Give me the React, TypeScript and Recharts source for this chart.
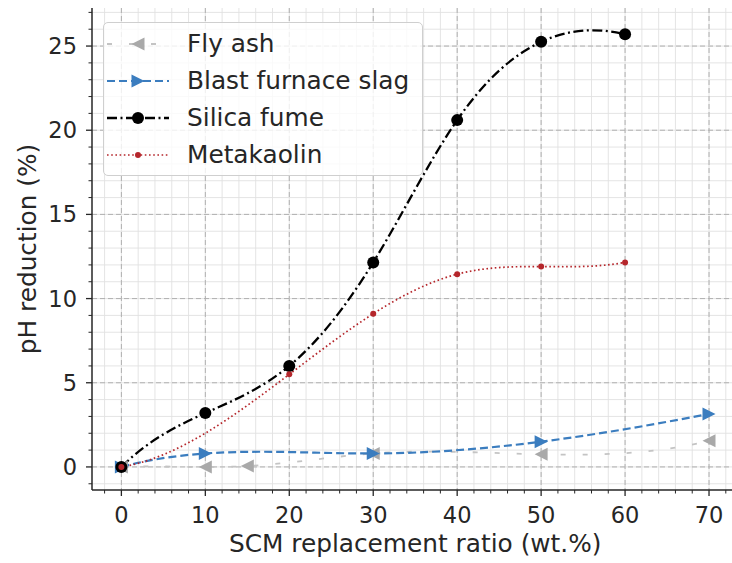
import React from 'react';
import { LineChart, Line, XAxis, YAxis, CartesianGrid } from 'recharts';

// values
const FLY_X = [0, 10, 15, 30, 50, 70];
const FLY_Y = [0, 0, 0.05, 0.8, 0.75, 1.55];

const SLAG_X = [0, 10, 30, 50, 70];
const SLAG_Y = [0, 0.8, 0.8, 1.5, 3.15];

const SILICA_X = [0, 10, 20, 30, 40, 50, 60];
const SILICA_Y = [0, 3.2, 6.0, 12.15, 20.6, 25.25, 25.7];

const META_X = [0, 20, 30, 40, 50, 60];
const META_Y = [0, 5.5, 9.1, 11.45, 11.9, 12.15];

const X_MAJOR = [0, 10, 20, 30, 40, 50, 60, 70];
const Y_MAJOR = [0, 5, 10, 15, 20, 25];

const X_DOMAIN: [number, number] = [-3.5, 73.5];
const Y_DOMAIN: [number, number] = [-1.37, 27.26];

const range = (a: number, b: number, step: number) => {
  const out: number[] = [];
  for (let v = a; v <= b + 1e-9; v += step) out.push(Math.round(v * 100) / 100);
  return out;
};
const X_MINOR = range(-2, 72, 2);
const Y_MINOR = range(-1, 27, 1);

const FONT = '"DejaVu Sans", Verdana, sans-serif';
const INK = '#262626';

const toRows = (xs: number[], ys: number[]) => xs.map((x, i) => ({ x, y: ys[i] }));

// not-a-knot cubic spline, like scipy's make_interp_spline
function secondDerivs(xs: number[], ys: number[]) {
  const n = xs.length;
  const h: number[] = [];
  const s: number[] = [];
  for (let i = 0; i < n - 1; i++) {
    h.push(xs[i + 1] - xs[i]);
    s.push((ys[i + 1] - ys[i]) / h[i]);
  }
  const A: number[][] = Array.from({ length: n }, () => new Array(n).fill(0));
  const b: number[] = new Array(n).fill(0);
  if (n < 4) {
    A[0][0] = 1;
    A[n - 1][n - 1] = 1;
  } else {
    A[0][0] = h[1];
    A[0][1] = -(h[0] + h[1]);
    A[0][2] = h[0];
    A[n - 1][n - 3] = h[n - 2];
    A[n - 1][n - 2] = -(h[n - 3] + h[n - 2]);
    A[n - 1][n - 1] = h[n - 3];
  }
  for (let i = 1; i < n - 1; i++) {
    A[i][i - 1] = h[i - 1];
    A[i][i] = 2 * (h[i - 1] + h[i]);
    A[i][i + 1] = h[i];
    b[i] = 6 * (s[i] - s[i - 1]);
  }
  // gaussian elimination
  for (let c = 0; c < n; c++) {
    let p = c;
    for (let r = c + 1; r < n; r++) if (Math.abs(A[r][c]) > Math.abs(A[p][c])) p = r;
    [A[c], A[p]] = [A[p], A[c]];
    [b[c], b[p]] = [b[p], b[c]];
    for (let r = c + 1; r < n; r++) {
      const f = A[r][c] / A[c][c];
      for (let k = c; k < n; k++) A[r][k] -= f * A[c][k];
      b[r] -= f * b[c];
    }
  }
  const M = new Array(n).fill(0);
  for (let r = n - 1; r >= 0; r--) {
    let acc = b[r];
    for (let k = r + 1; k < n; k++) acc -= A[r][k] * M[k];
    M[r] = acc / A[r][r];
  }
  return M;
}

function splineCurve(context: any) {
  let xs: number[] = [];
  let ys: number[] = [];
  return {
    areaStart() {},
    areaEnd() {},
    lineStart() {
      xs = [];
      ys = [];
    },
    point(x: number, y: number) {
      xs.push(+x);
      ys.push(+y);
    },
    lineEnd() {
      const n = xs.length;
      if (!n) return;
      context.moveTo(xs[0], ys[0]);
      if (n === 2) context.lineTo(xs[1], ys[1]);
      if (n < 3) return;
      const M = secondDerivs(xs, ys);
      for (let i = 0; i < n - 1; i++) {
        const h = xs[i + 1] - xs[i];
        const sl = (ys[i + 1] - ys[i]) / h;
        const d0 = sl - (h * (2 * M[i] + M[i + 1])) / 6;
        const d1 = sl + (h * (M[i] + 2 * M[i + 1])) / 6;
        context.bezierCurveTo(
          xs[i] + h / 3,
          ys[i] + (d0 * h) / 3,
          xs[i + 1] - h / 3,
          ys[i + 1] - (d1 * h) / 3,
          xs[i + 1],
          ys[i + 1]
        );
      }
    },
  };
}

type Marker = 'left' | 'right' | 'bigdot' | 'dot';

function marker(kind: Marker, cx: number, cy: number, color: string, key?: string) {
  if (kind === 'left') {
    const r = 6.5;
    return <path key={key} d={`M${cx - r},${cy} L${cx + r},${cy - r} L${cx + r},${cy + r} Z`} fill={color} />;
  }
  if (kind === 'right') {
    const r = 6.5;
    return <path key={key} d={`M${cx + r},${cy} L${cx - r},${cy - r} L${cx - r},${cy + r} Z`} fill={color} />;
  }
  if (kind === 'bigdot') return <circle key={key} cx={cx} cy={cy} r={6} fill={color} />;
  return <circle key={key} cx={cx} cy={cy} r={3} fill={color} />;
}

const SERIES = [
  { name: 'Fly ash', rows: toRows(FLY_X, FLY_Y), stroke: '#c4c4c4', mark: '#a9a9a9', dash: '5 17', width: 1.8, kind: 'left' as Marker },
  { name: 'Blast furnace slag', rows: toRows(SLAG_X, SLAG_Y), stroke: '#3b7dbf', mark: '#3b7dbf', dash: '8 4', width: 2.2, kind: 'right' as Marker },
  { name: 'Silica fume', rows: toRows(SILICA_X, SILICA_Y), stroke: '#000000', mark: '#000000', dash: '10 3.5 2 3.5', width: 2.3, kind: 'bigdot' as Marker },
  { name: 'Metakaolin', rows: toRows(META_X, META_Y), stroke: '#b5262b', mark: '#b5262b', dash: '1.6 2.6', width: 1.7, kind: 'dot' as Marker },
];

const XTick = (props: any) => {
  const { x, y, payload } = props;
  const major = X_MAJOR.includes(payload.value);
  return (
    <g>
      <line x1={x} x2={x} y1={y} y2={y + (major ? 6 : 3.5)} stroke={INK} strokeWidth={major ? 1.3 : 1} />
      {major && (
        <text x={x} y={y + 33} textAnchor="middle" fontSize={22.5} fill={INK}>
          {payload.value}
        </text>
      )}
    </g>
  );
};

const YTick = (props: any) => {
  const { x, y, payload } = props;
  const major = Y_MAJOR.includes(payload.value);
  return (
    <g>
      <line x1={x} x2={x - (major ? 6 : 3.5)} y1={y} y2={y} stroke={INK} strokeWidth={major ? 1.3 : 1} />
      {major && (
        <text x={x - 15} y={y + 8} textAnchor="end" fontSize={22.5} fill={INK}>
          {payload.value}
        </text>
      )}
    </g>
  );
};

function LegendBox() {
  return (
    <div
      style={{
        position: 'absolute',
        left: 103,
        top: 22,
        width: 320,
        height: 154,
        border: '1px solid #cfcfcf',
        borderRadius: 5,
        background: 'rgba(255,255,255,0.8)',
        boxSizing: 'border-box',
        paddingTop: 2,
      }}
    >
      {SERIES.map((s) => (
        <div key={s.name} style={{ display: 'flex', alignItems: 'center', height: 37 }}>
          <svg width={62} height={20} style={{ marginLeft: 3, marginRight: 18 }}>
            <line x1={0} x2={62} y1={10} y2={10} stroke={s.stroke} strokeWidth={s.width} strokeDasharray={s.dash} />
            {marker(s.kind, 31, 10, s.mark)}
          </svg>
          <span style={{ fontSize: 24.8, color: INK, lineHeight: '37px' }}>{s.name}</span>
        </div>
      ))}
    </div>
  );
}

export default function App() {
  return (
    <div
      style={{
        position: 'absolute',
        left: 0,
        top: 0,
        width: 732,
        height: 563,
        overflow: 'hidden',
        background: '#fff',
        fontFamily: FONT,
      }}
    >
      <LineChart width={760} height={563} margin={{ top: 8, right: 21.6, bottom: 0, left: 0 }}>
        <CartesianGrid stroke="#e1e1e1" strokeWidth={0.9} horizontalValues={Y_MINOR} verticalValues={X_MINOR} />
        <CartesianGrid stroke="#b0b0b0" strokeWidth={1} strokeDasharray="5 3" horizontalValues={Y_MAJOR} verticalValues={X_MAJOR} />
        <XAxis
          type="number"
          dataKey="x"
          domain={X_DOMAIN}
          allowDataOverflow
          ticks={X_MINOR}
          interval={0}
          height={73}
          tickSize={0}
          tickMargin={0}
          tickLine={false}
          tick={<XTick />}
          axisLine={{ stroke: INK, strokeWidth: 1.5 }}
          label={{ value: 'SCM replacement ratio (wt.%)', position: 'insideBottom', offset: 11, fontSize: 24.8, fill: INK }}
        />
        <XAxis
          xAxisId="top"
          orientation="top"
          type="number"
          domain={X_DOMAIN}
          allowDataOverflow
          height={0}
          tick={false}
          tickLine={false}
          axisLine={{ stroke: INK, strokeWidth: 1.5 }}
        />
        <YAxis
          type="number"
          domain={Y_DOMAIN}
          allowDataOverflow
          ticks={Y_MINOR}
          interval={0}
          width={92}
          tickSize={0}
          tickMargin={0}
          tickLine={false}
          tick={<YTick />}
          axisLine={{ stroke: INK, strokeWidth: 1.5 }}
          label={{
            value: 'pH reduction (%)',
            angle: -90,
            position: 'insideLeft',
            offset: 27,
            fontSize: 24.8,
            fill: INK,
            style: { textAnchor: 'middle' },
          }}
        />
        <YAxis
          yAxisId="right"
          orientation="right"
          type="number"
          domain={Y_DOMAIN}
          allowDataOverflow
          width={0}
          tick={false}
          tickLine={false}
          axisLine={{ stroke: INK, strokeWidth: 1.5 }}
        />
        {SERIES.map((s) => (
          <Line
            key={s.name}
            data={s.rows}
            dataKey="y"
            name={s.name}
            type={splineCurve as any}
            stroke={s.stroke}
            strokeWidth={s.width}
            strokeDasharray={s.dash}
            activeDot={false}
            isAnimationActive={false}
            dot={(p: any) =>
              p.cx == null ? <g key={`${s.name}-${p.index}`} /> : marker(s.kind, p.cx, p.cy, s.mark, `${s.name}-${p.index}`)
            }
          />
        ))}
      </LineChart>
      <LegendBox />
    </div>
  );
}
